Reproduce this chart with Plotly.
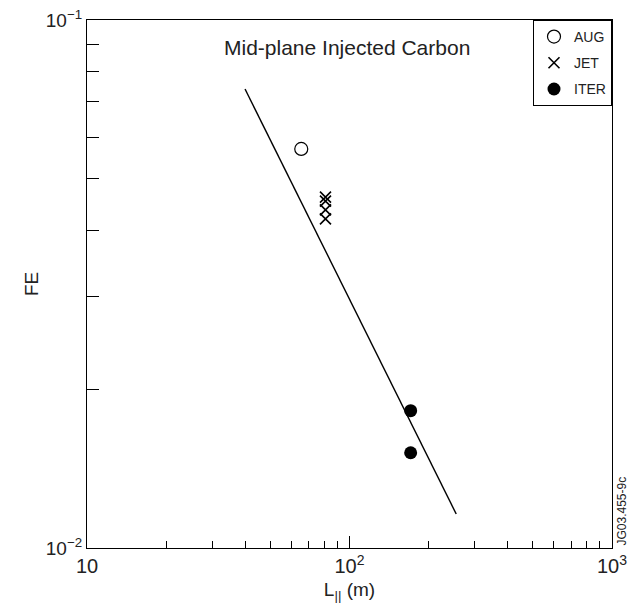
import plotly.graph_objects as go

# ---- data ----
aug_L = [65.5]
aug_FE = [0.0570]
jet_L = [81, 81, 81, 81]
jet_FE = [0.0462, 0.0454, 0.0437, 0.0420]
iter_L = [171, 171]
iter_FE = [0.0182, 0.01515]
fit_L = [40, 255]
fit_FE = [0.0740, 0.0116]

x_major = [10, 100, 1000]
x_major_text = ["10", "10<sup>2</sup>", "10<sup>3</sup>"]
x_minor = [20, 30, 40, 50, 60, 70, 80, 90, 200, 300, 400, 500, 600, 700, 800, 900]
y_major = [0.01, 0.1]
y_major_text = ["10<sup>−2</sup>", "10<sup>−1</sup>"]
y_minor = [0.02, 0.03, 0.04, 0.05, 0.06, 0.07, 0.08, 0.09]

FONT = "Liberation Sans, Arial, sans-serif"
TXT = "#222"

fig = go.Figure()
fig.add_trace(go.Scatter(x=fit_L, y=fit_FE, mode="lines",
                         line=dict(color="black", width=1.4), showlegend=False))
fig.add_trace(go.Scatter(x=aug_L, y=aug_FE, mode="markers", name="AUG", legendgroup="a",
                         marker=dict(symbol="circle-open", size=13, color="black",
                                     line=dict(width=1.2, color="black"))))
fig.add_trace(go.Scatter(x=jet_L, y=jet_FE, mode="markers", name="JET", legendgroup="b",
                         marker=dict(symbol="x-thin-open", size=11, color="black",
                                     line=dict(width=1.6, color="black"))))
fig.add_trace(go.Scatter(x=iter_L, y=iter_FE, mode="markers", name="ITER", legendgroup="c",
                         marker=dict(symbol="circle", size=13, color="black")))

axis_common = dict(type="log", showline=True, linecolor="black", linewidth=1.3,
                   mirror=True, ticks="inside", tickcolor="black", tickwidth=1,
                   showgrid=False, zeroline=False, automargin=False)

fig.update_xaxes(**axis_common, range=[1, 3], tickmode="array",
                 tickvals=x_major, ticktext=x_major_text, ticklen=12,
                 tickfont=dict(family=FONT, size=20, color=TXT),
                 minor=dict(tickmode="array", tickvals=x_minor, ticks="inside",
                            ticklen=7, tickcolor="black", tickwidth=1),
                 title=dict(text="L<sub>||</sub> (m)", standoff=6,
                            font=dict(family=FONT, size=19, color=TXT)))
fig.update_yaxes(**axis_common, range=[-2, -1], tickmode="array",
                 tickvals=y_major, ticktext=y_major_text, ticklen=12,
                 tickfont=dict(family=FONT, size=19, color=TXT),
                 minor=dict(tickmode="array", tickvals=y_minor, ticks="inside",
                            ticklen=12, tickcolor="black", tickwidth=1))

fig.add_annotation(text="FE", xref="paper", yref="paper",
                   x=0, y=0.5, xshift=-56, xanchor="center", yanchor="middle",
                   textangle=-90, showarrow=False,
                   font=dict(family=FONT, size=19, color=TXT))
fig.add_annotation(text="Mid-plane Injected Carbon", xref="paper", yref="paper",
                   x=0.495, y=0.947, xanchor="center", yanchor="middle",
                   showarrow=False, font=dict(family=FONT, size=21, color=TXT))
fig.add_annotation(text="JG03.455-9c", xref="paper", yref="paper",
                   x=1.0, y=0.0, xshift=9, xanchor="center", yanchor="bottom",
                   textangle=-90, showarrow=False,
                   font=dict(family=FONT, size=12, color=TXT))

fig.update_layout(
    width=638, height=605,
    margin=dict(l=87, r=26, t=20, b=57, autoexpand=False),
    paper_bgcolor="white", plot_bgcolor="white",
    legend=dict(x=1, y=1, xanchor="right", yanchor="top",
                bordercolor="black", borderwidth=1, bgcolor="white",
                font=dict(family=FONT, size=14, color=TXT),
                itemwidth=30, tracegroupgap=5),
    font=dict(family=FONT),
)

fig.write_html("out.html")
